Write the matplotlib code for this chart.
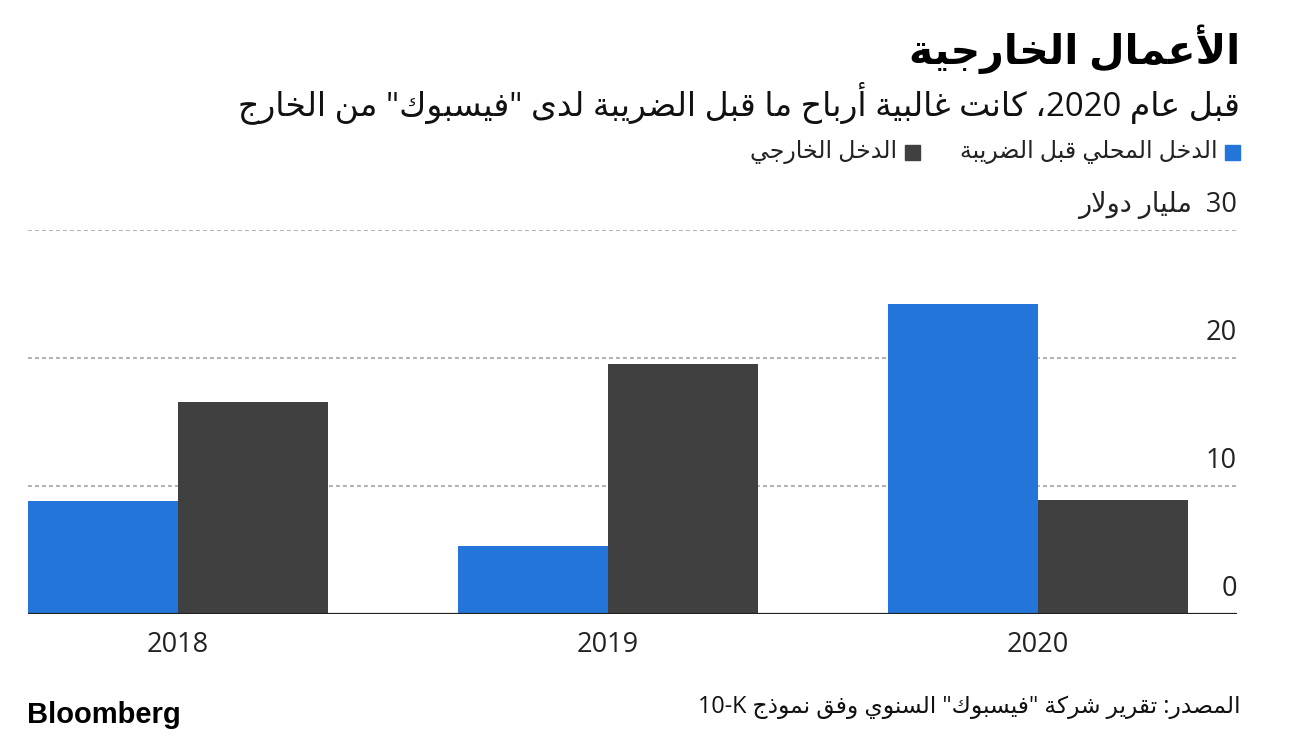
import re

import matplotlib
matplotlib.use("Agg")
import matplotlib.pyplot as plt
import numpy as np

# ---- data (billion USD) ----
YEARS = ["2018", "2019", "2020"]
DOMESTIC = [8.8, 5.3, 24.2]     # pre-tax domestic income
FOREIGN = [16.6, 19.5, 8.9]     # foreign income
Y_TICKS = [0, 10, 20, 30]

TITLE = "الأعمال الخارجية"
SUBTITLE = 'قبل عام 2020، كانت غالبية أرباح ما قبل الضريبة لدى "فيسبوك" من الخارج'
LEG_DOMESTIC = "الدخل المحلي قبل الضريبة"
LEG_FOREIGN = "الدخل الخارجي"
UNIT = "مليار دولار"
SOURCE = 'المصدر: تقرير شركة "فيسبوك" السنوي وفق نموذج 10-K'

BLUE = "#2475d9"
DARK = "#404040"
FAMILY = ["Open Sans", "DejaVu Sans"]

# ---- minimal Arabic shaping + RTL reordering (matplotlib has no CTL) ----
_DUAL = {0x0626: 0xFE89, 0x0628: 0xFE8F, 0x062A: 0xFE95, 0x062B: 0xFE99,
         0x062C: 0xFE9D, 0x062D: 0xFEA1, 0x062E: 0xFEA5, 0x0633: 0xFEB1,
         0x0634: 0xFEB5, 0x0635: 0xFEB9, 0x0636: 0xFEBD, 0x0637: 0xFEC1,
         0x0638: 0xFEC5, 0x0639: 0xFEC9, 0x063A: 0xFECD, 0x0641: 0xFED1,
         0x0642: 0xFED5, 0x0643: 0xFED9, 0x0644: 0xFEDD, 0x0645: 0xFEE1,
         0x0646: 0xFEE5, 0x0647: 0xFEE9, 0x064A: 0xFEF1}
_RIGHT = {0x0622: 0xFE81, 0x0623: 0xFE83, 0x0624: 0xFE85, 0x0625: 0xFE87,
          0x0627: 0xFE8D, 0x0629: 0xFE93, 0x062F: 0xFEA9, 0x0630: 0xFEAB,
          0x0631: 0xFEAD, 0x0632: 0xFEAF, 0x0648: 0xFEED, 0x0649: 0xFEEF}
_LAMALEF = {0x0622: 0xFEF5, 0x0623: 0xFEF7, 0x0625: 0xFEF9, 0x0627: 0xFEFB}


def shape(text):
    toks = []
    i = 0
    while i < len(text):
        c = ord(text[i])
        if c == 0x0644 and i + 1 < len(text) and ord(text[i + 1]) in _LAMALEF:
            toks.append(("LA", _LAMALEF[ord(text[i + 1])]))
            i += 2
            continue
        toks.append(("C", c))
        i += 1

    def kind(t):
        if t[0] == "LA":
            return "R"
        if t[1] in _DUAL:
            return "D"
        if t[1] in _RIGHT:
            return "R"
        return None

    out = []
    for j, t in enumerate(toks):
        k = kind(t)
        if k is None:
            out.append(chr(t[1]))
            continue
        prev = kind(toks[j - 1]) if j > 0 else None
        nxt = kind(toks[j + 1]) if j + 1 < len(toks) else None
        jp = prev == "D"
        jn = k == "D" and nxt is not None
        base = t[1] if t[0] == "LA" else (_DUAL.get(t[1]) or _RIGHT.get(t[1]))
        if k == "R":
            out.append(chr(base + (1 if jp else 0)))
        else:
            off = 3 if (jp and jn) else 2 if jn else 1 if jp else 0
            out.append(chr(base + off))
    vis = "".join(out)[::-1]
    return re.sub(r"[0-9A-Za-z]+(?:[-.][0-9A-Za-z]+)*", lambda m: m.group(0)[::-1], vis)


W, H = 1297, 740
fig = plt.figure(figsize=(W / 100, H / 100), dpi=100)


def fx(px):
    return px / W


def fy(py):
    return 1 - py / H


# axes box: x 28..1237 px, y 230 (30) .. 614 (0) px
ax = fig.add_axes([fx(28), fy(614), fx(1237 - 28), (614 - 230) / H])

x = np.arange(len(YEARS))
bw = 0.349
ax.bar(x - bw / 2, DOMESTIC, width=bw, color=BLUE, zorder=2)
ax.bar(x + bw / 2, FOREIGN, width=bw, color=DARK, zorder=2)

x_left = -bw
x_right = x_left + (1237 - 28) / 430
ax.set_xlim(x_left, x_right)
ax.set_ylim(0, 30)
ax.axis("off")

for v in Y_TICKS[1:]:
    ax.axhline(v, color="#b0b0b0", lw=1.4, ls=(0, (2.0, 1.6)), zorder=1)
ax.axhline(0, color="#222222", lw=1.6, zorder=3)

for v in Y_TICKS:
    lab = shape(f"30  {UNIT}") if v == 30 else str(v)
    ax.annotate(lab, (x_right, v), xytext=(0, 8), textcoords="offset points",
                ha="right", va="bottom", fontsize=19.5, color="#222222",
                family=FAMILY, annotation_clip=False)

for xi, yr in zip(x, YEARS):
    ax.annotate(yr, (xi, 0), xytext=(0, -12), textcoords="offset points",
                ha="center", va="top", fontsize=19.5, color="#222222",
                family=FAMILY, annotation_clip=False)

# header
fig.text(fx(1240), fy(49), shape(TITLE), ha="right", va="center",
         fontsize=29.5, fontweight="bold", family=FAMILY, color="#000000")
fig.text(fx(1240), fy(103), shape(SUBTITLE), ha="right", va="center",
         fontsize=23.8, family=FAMILY, color="#111111")

# legend
fig.patches.append(plt.Rectangle((fx(1225), fy(160)), fx(15), 15 / H,
                                 transform=fig.transFigure, color=BLUE))
fig.text(fx(1218), fy(152), shape(LEG_DOMESTIC), ha="right", va="center",
         fontsize=17, family=FAMILY, color="#222222")
fig.patches.append(plt.Rectangle((fx(905), fy(160)), fx(15), 15 / H,
                                 transform=fig.transFigure, color=DARK))
fig.text(fx(897), fy(152), shape(LEG_FOREIGN), ha="right", va="center",
         fontsize=17, family=FAMILY, color="#222222")

# footer
fig.text(fx(27), fy(715), "Bloomberg", ha="left", va="center",
         fontsize=21, fontweight="bold", family=["Liberation Sans"],
         color="#000000")
fig.text(fx(1240), fy(707), shape(SOURCE), ha="right", va="center",
         fontsize=16.8, family=FAMILY, color="#111111")

fig.savefig("out.png", dpi=100, facecolor="white")
